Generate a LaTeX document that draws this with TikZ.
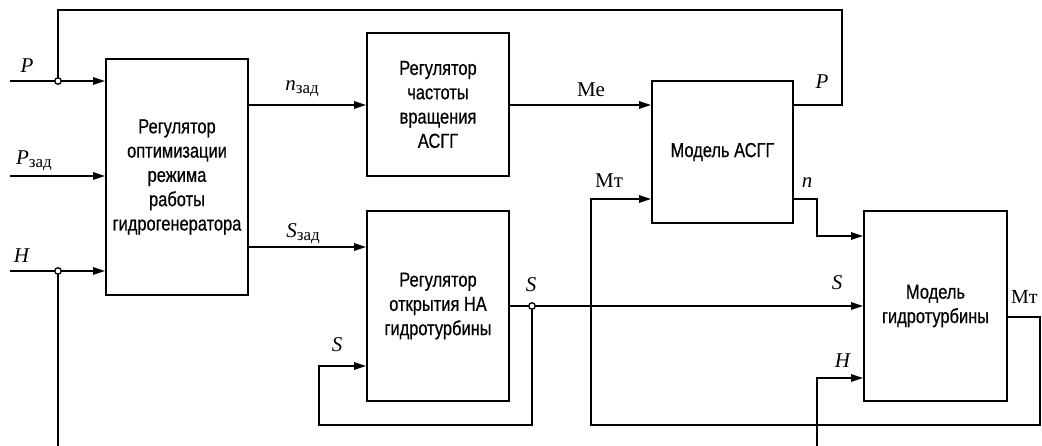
\documentclass[tikz,border=0pt]{standalone}
\usepackage{fontspec}
\setmainfont{Liberation Serif}
\newfontfamily\boxfont[FakeStretch=0.81,FakeBold=0.6]{Liberation Sans}
\usetikzlibrary{arrows.meta}
\newcommand{\sub}[1]{\raisebox{-0.35ex}{\fontsize{17}{17}\selectfont #1}}
\tikzset{
  blk/.style={draw, line width=2pt, rectangle, align=center,
    font=\boxfont\fontsize{20.3}{24.3}\selectfont, inner sep=0pt},
  wire/.style={line width=1.7pt},
  arr/.style={wire, -{Triangle[length=12pt,width=7.5pt]}},
  lbl/.style={font=\fontsize{21}{21}\selectfont, inner sep=0pt},
  jn/.style={circle, draw, line width=1.3pt, fill=white, inner sep=0pt, minimum size=6.5pt}
}
\begin{document}
\begin{tikzpicture}[x=1pt, y=-1pt]
\useasboundingbox (0,0) rectangle (1042,446);
% blocks
\node[blk, minimum width=142pt, minimum height=236pt] (b1) at (177,177)
  {Регулятор\\оптимизации\\режима\\работы\\гидрогенератора};
\node[blk, minimum width=142pt, minimum height=143pt] (b2) at (438,104.5)
  {Регулятор\\частоты\\вращения\\АСГГ};
\node[blk, minimum width=142pt, minimum height=190pt] (b3) at (438,306)
  {Регулятор\\открытия НА\\гидротурбины};
\node[blk, minimum width=141pt, minimum height=142pt] (b4) at (722.5,152)
  {Модель АСГГ};
\node[blk, minimum width=143pt, minimum height=190pt] (b5) at (935.5,306)
  {Модель\\гидротурбины};
% coordinates
\coordinate (pin) at (10,81);
\coordinate (pzin) at (10,176);
\coordinate (hin) at (10,271);
\coordinate (jp) at (58,81);
\coordinate (jh) at (58,271);
\coordinate (hb1) at (58,446);
\coordinate (yN) at (0,105);
\coordinate (yS) at (0,247);
\coordinate (topR) at (842,10);
\coordinate (js) at (532,306);
\coordinate (fbL) at (319,425);
\coordinate (yFb) at (0,366);
\coordinate (mtR) at (1040,425);
\coordinate (mtc) at (591,199);
\coordinate (yMt) at (0,317);
\coordinate (nc) at (817,236);
\coordinate (yNo) at (0,199);
\coordinate (hb2) at (817,446);
\coordinate (yH) at (0,378);
% inputs of b1
\draw[arr] (pin) -- (pin -| b1.west);
\draw[arr] (pzin) -- (pzin -| b1.west);
\draw[arr] (hin) -- (hin -| b1.west);
\draw[wire] (jh) -- (hb1);
% P feedback
\draw[wire] (b4.east |- yN) -| (topR) -| (jp);
% n_zad, S_zad
\draw[arr] (b1.east |- yN) -- (b2.west |- yN);
\draw[arr] (b1.east |- yS) -- (b3.west |- yS);
% Me
\draw[arr] (b2.east |- yN) -- (b4.west |- yN);
% S
\draw[arr] (b3.east |- js) -- (b5.west |- js);
\draw[arr] (js) |- (fbL) |- (b3.west |- yFb);
% Mt loop
\draw[arr] (b5.east |- yMt) -| (mtR) -| (mtc) -- (b4.west |- mtc);
% n
\draw[arr] (b4.east |- yNo) -| (nc) -- (b5.west |- nc);
% H to turbine
\draw[arr] (hb2) |- (b5.west |- yH);
% junctions
\node[jn] (jpn) at (jp) {};
\node[jn] (jhn) at (jh) {};
\node[jn] (jsn) at (js) {};
% labels
\node[lbl] (lP) at (27,66) {\textit{P}};
\node[lbl] (lPz) at (34,161) {\textit{P}\sub{зад}};
\node[lbl] (lH) at (22,256) {\textit{H}};
\node[lbl] (lnz) at (302,89) {\textit{n}\sub{зад}};
\node[lbl] (lSz) at (303,234) {\textit{S}\sub{зад}};
\node[lbl] (lMe) at (591,90) {Ме};
\node[lbl] (lMt) at (609,181) {Мт};
\node[lbl] (lP2) at (822,82) {\textit{P}};
\node[lbl] (ln) at (807,183) {\textit{n}};
\node[lbl] (lS1) at (531,285) {\textit{S}};
\node[lbl] (lS2) at (337,345) {\textit{S}};
\node[lbl] (lS3) at (837,283) {\textit{S}};
\node[lbl] (lH2) at (843,361) {\textit{H}};
\node[lbl, anchor=west, font=\fontsize{20}{20}\selectfont] (lMt2) at (1011,297) {Мт};
\end{tikzpicture}
\end{document}
